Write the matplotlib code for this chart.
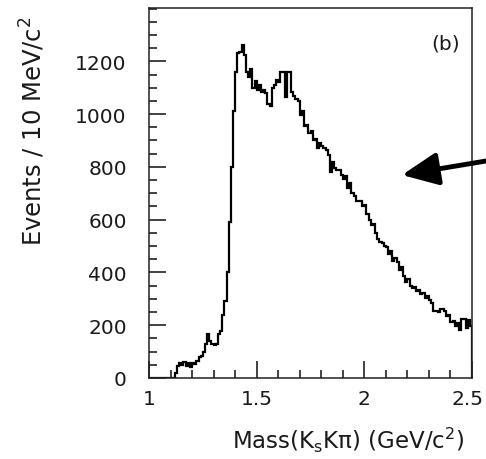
import numpy as np
import matplotlib
matplotlib.use("Agg")
import matplotlib.pyplot as plt
import matplotlib.transforms as mtransforms
from matplotlib.ticker import MultipleLocator

# Histogram: 10 MeV bins from 1.00 to 2.50 GeV/c^2
bin_lo = 1.00
bin_hi = 2.50
counts = [
    # 1.00 - 1.11
    0, 0, 0, 0, 0, 0, 0, 0, 0, 0, 0, 0,
    # 1.12 - 1.19
    20, 45, 55, 50, 62, 45, 55, 40,
    # 1.20 - 1.29
    58, 52, 65, 78, 82, 100, 130, 168, 140, 128,
    # 1.30 - 1.39
    125, 130, 165, 178, 240, 290, 400, 590, 800, 1010,
    # 1.40 - 1.49
    1160, 1230, 1235, 1262, 1225, 1160, 1140, 1170, 1100, 1125,
    # 1.50 - 1.59
    1090, 1110, 1085, 1090, 1080, 1040, 1030, 1100, 1110, 1130,
    # 1.60 - 1.69
    1120, 1158, 1158, 1065, 1160, 1160, 1085, 1070, 1058, 1050,
    # 1.70 - 1.79
    995, 1010, 955, 960, 930, 935, 900, 905, 870, 890,
    # 1.80 - 1.89
    878, 870, 865, 845, 780, 820, 795, 790, 790, 770,
    # 1.90 - 1.99
    755, 765, 720, 740, 700, 690, 672, 670, 672, 650,
    # 2.00 - 2.09
    655, 620, 600, 580, 585, 550, 528, 515, 512, 500,
    # 2.10 - 2.19
    495, 470, 480, 445, 455, 440, 410, 420, 385, 365,
    # 2.20 - 2.29
    375, 350, 340, 345, 330, 335, 320, 322, 305, 310,
    # 2.30 - 2.39
    295, 285, 255, 252, 250, 262, 262, 255, 235, 238,
    # 2.40 - 2.49
    212, 215, 198, 210, 180, 222, 225, 190, 220, 198,
]
edges = np.linspace(bin_lo, bin_hi, len(counts) + 1)

xticks = [1, 1.5, 2, 2.5]
xticklabels = ["1", "1.5", "2", "2.5"]
yticks = [0, 200, 400, 600, 800, 1000, 1200]
yticklabels = ["0", "200", "400", "600", "800", "1000", "1200"]

plt.rcParams['font.family'] = ['DejaVu Sans']
plt.rcParams['mathtext.fontset'] = 'dejavusans'

W, H = 486, 460
fig = plt.figure(figsize=(W / 100, H / 100), dpi=100)
ax = fig.add_axes([149 / W, (H - 379) / H, (472 - 149) / W, (379 - 9) / H])

ax.stairs(counts, edges, color='black', lw=1.6, baseline=0)

ax.set_xlim(1.0, 2.5)
ax.set_ylim(0, 1402)

ax.set_xticks(xticks)
ax.set_xticklabels(xticklabels)
ax.set_yticks(yticks)
ax.set_yticklabels(yticklabels)
ax.xaxis.set_minor_locator(MultipleLocator(0.1))
ax.yaxis.set_minor_locator(MultipleLocator(50))

txtcol = '#1a1a1a'
ax.tick_params(which='both', direction='in', top=False, right=False,
               color='#222222', width=1.2, labelsize=14.5, labelcolor=txtcol)
ax.tick_params(which='major', length=12)
ax.tick_params(which='minor', length=6)
ax.tick_params(axis='y', which='major', pad=16)
ax.tick_params(axis='x', which='major', pad=8)

# keep the last x label inside the figure, like the reference
last = ax.get_xticklabels()[-1]
last.set_transform(last.get_transform() +
                   mtransforms.ScaledTranslation(-5 / 100, 0, fig.dpi_scale_trans))

for s in ax.spines.values():
    s.set_color('#222222')
    s.set_linewidth(1.1)

ax.text(446, H - 44, "(b)", transform=None, ha='center', va='center',
        fontsize=14.5, color=txtcol)

fig.text(33 / W, (H - 246) / H, r"Events / 10 MeV/c$^{2}$", rotation=90,
         ha='center', va='bottom', fontsize=17.5, color=txtcol)
fig.text(348 / W, (H - 440) / H, r"Mass(K$_{\rm s}$Kπ) (GeV/c$^{2}$)",
         ha='center', va='center', fontsize=16.5, color=txtcol)

ax.annotate('', xy=(402, H - 176), xycoords='figure pixels',
            xytext=(492, H - 161), textcoords='figure pixels',
            arrowprops=dict(arrowstyle='-|>,head_length=1.1,head_width=0.5',
                            mutation_scale=20, lw=3.5, color='black',
                            shrinkA=0, shrinkB=0),
            annotation_clip=False)

fig.savefig("out.png", dpi=100)
